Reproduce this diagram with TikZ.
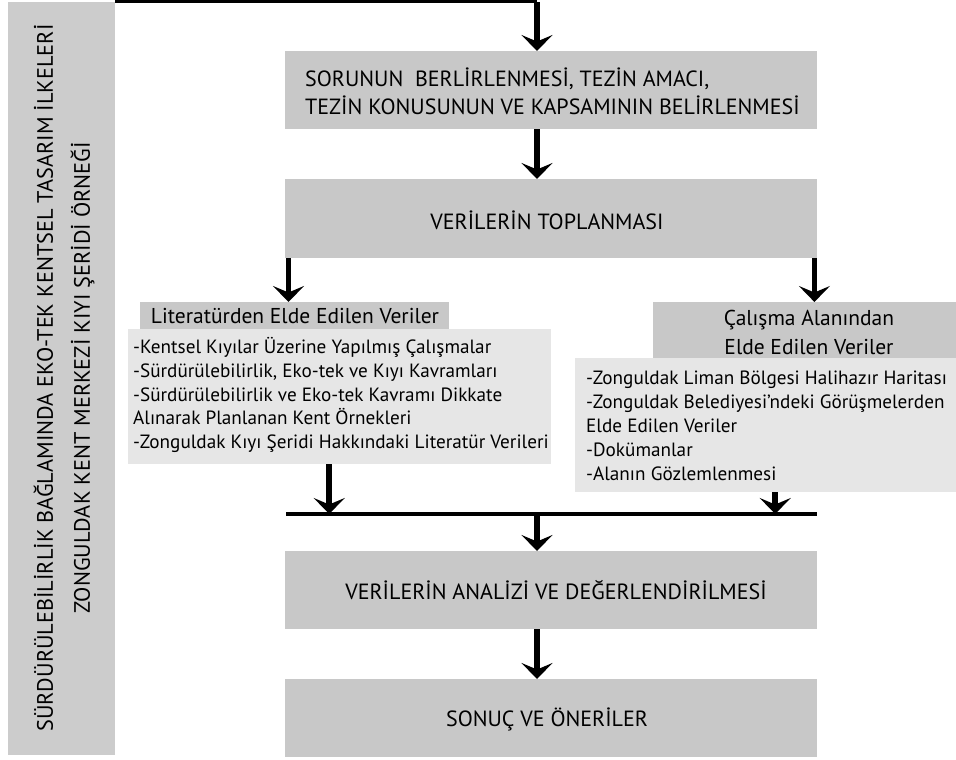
\documentclass[tikz,border=0pt]{standalone}
\usepackage{fontspec}
\setmainfont{PT Sans}
\usetikzlibrary{arrows.meta}
\definecolor{boxgray}{RGB}{200,200,200}
\definecolor{bodygray}{RGB}{230,230,230}
\definecolor{sidegray}{RGB}{204,204,204}
\begin{document}
\begin{tikzpicture}[x=1pt,y=-1pt,
  box/.style={fill=boxgray, draw=none, minimum width=532pt, anchor=north west, inner sep=0pt},
  hdr/.style={fill=boxgray, draw=none, anchor=north west, inner sep=0pt},
  body/.style={fill=bodygray, draw=none, anchor=north west, inner sep=0pt},
  bigtxt/.style={inner sep=0pt, font=\fontsize{22}{28}\selectfont},
  hdrtxt/.style={inner sep=0pt, align=center, font=\fontsize{21.5}{29}\selectfont},
  bodytxt/.style={inner sep=0pt, align=left, font=\fontsize{19.2}{23.9}\selectfont},
  arr/.style={line width=5.5pt, -{Stealth[length=16pt,width=31pt,inset=6.5pt]}},
  conn/.style={line width=4pt}
]
\useasboundingbox (0,0) rectangle (956,760);
\fill[white] (0,0) rectangle (956,760);

% sidebar
\node[fill=sidegray, draw=none, anchor=north west, inner sep=0pt, minimum width=107pt, minimum height=753pt] (sb) at (8,2) {};
\node[rotate=90, align=center, inner sep=0pt, font=\fontsize{22.3}{37}\selectfont] (sbt) at (64,378)
  {SÜRDÜRÜLEBİLİRLİK BAĞLAMINDA EKO-TEK KENTSEL TASARIM İLKELERİ\\ZONGULDAK KENT MERKEZİ KIYI ŞERİDİ ÖRNEĞİ};

\coordinate (ax) at (537,0);

% main boxes
\node[box, minimum height=78pt] (b1) at (285,51) {};
\node[bigtxt, anchor=west, align=left] (t1) at (305,91)
  {SORUNUN\ \ BERLİRLENMESİ, TEZİN AMACI,\\TEZİN KONUSUNUN VE KAPSAMININ BELİRLENMESİ};

\node[box, minimum height=79pt] (b2) at (285,179) {};
\node[bigtxt] (t2) at (547,220) {VERİLERİN TOPLANMASI};

% literature
\node[hdr, minimum width=309pt, minimum height=27pt] (lh) at (140,302) {};
\node[hdrtxt] (lht) at (295,316) {Literatürden Elde Edilen Veriler};
\node[body, minimum width=423pt, minimum height=135pt] (lb) at (128,329) {};
\node[bodytxt, anchor=west] (lbt) at (133,395)
  {-Kentsel Kıyılar Üzerine Yapılmış Çalışmalar\\
   -Sürdürülebilirlik, Eko-tek ve Kıyı Kavramları\\
   -Sürdürülebilirlik ve Eko-tek Kavramı Dikkate\\
   Alınarak Planlanan Kent Örnekleri\\
   -Zonguldak Kıyı Şeridi Hakkındaki Literatür Verileri};

% field study
\node[hdr, minimum width=303pt, minimum height=56pt] (rh) at (653,302) {};
\node[hdrtxt] (rht) at (809,332) {Çalışma Alanından\\Elde Edilen Veriler};
\node[body, minimum width=381pt, minimum height=134pt] (rb) at (575,358) {};
\node[bodytxt, anchor=west] (rbt) at (586,426)
  {-Zonguldak Liman Bölgesi Halihazır Haritası\\
   -Zonguldak Belediyesi’ndeki Görüşmelerden\\
   Elde Edilen Veriler\\
   -Dokümanlar\\
   -Alanın Gözlemlenmesi};

% bus line
\coordinate (busL) at (286,514);
\coordinate (busR) at (817,514);

\node[box, minimum height=78pt] (b3) at (285,551) {};
\node[bigtxt] (t3) at (556,590) {VERİLERİN ANALİZİ VE DEĞERLENDİRİLMESİ};

\node[box, minimum height=78pt] (b4) at (285,679) {};
\node[bigtxt] (t4) at (547,719) {SONUÇ VE ÖNERİLER};

% connectors
\draw[conn] ([yshift=1pt]sb.north east) -- ([yshift=1pt]sb.north east -| ax);
\draw[arr] (sb.north east -| ax) -- (b1.north -| ax);
\draw[arr] (b1.south -| ax) -- (b2.north -| ax);
\draw[arr] ([xshift=3.5pt]b2.south west) -- ([xshift=3.5pt]b2.south west |- lh.north);
\draw[arr] ([xshift=-3pt]b2.south east) -- ([xshift=-3pt]b2.south east |- rh.north);
\draw[arr] ([xshift=-10.5pt]lb.south) -- ([xshift=-10.5pt]lb.south |- busL);
\draw[arr] ([xshift=9.5pt]rb.south) -- ([xshift=9.5pt]rb.south |- busL);
\draw[conn] (busL) -- (busR);
\draw[arr] (busL -| ax) -- (b3.north -| ax);
\draw[arr] (b3.south -| ax) -- (b4.north -| ax);
\end{tikzpicture}
\end{document}
